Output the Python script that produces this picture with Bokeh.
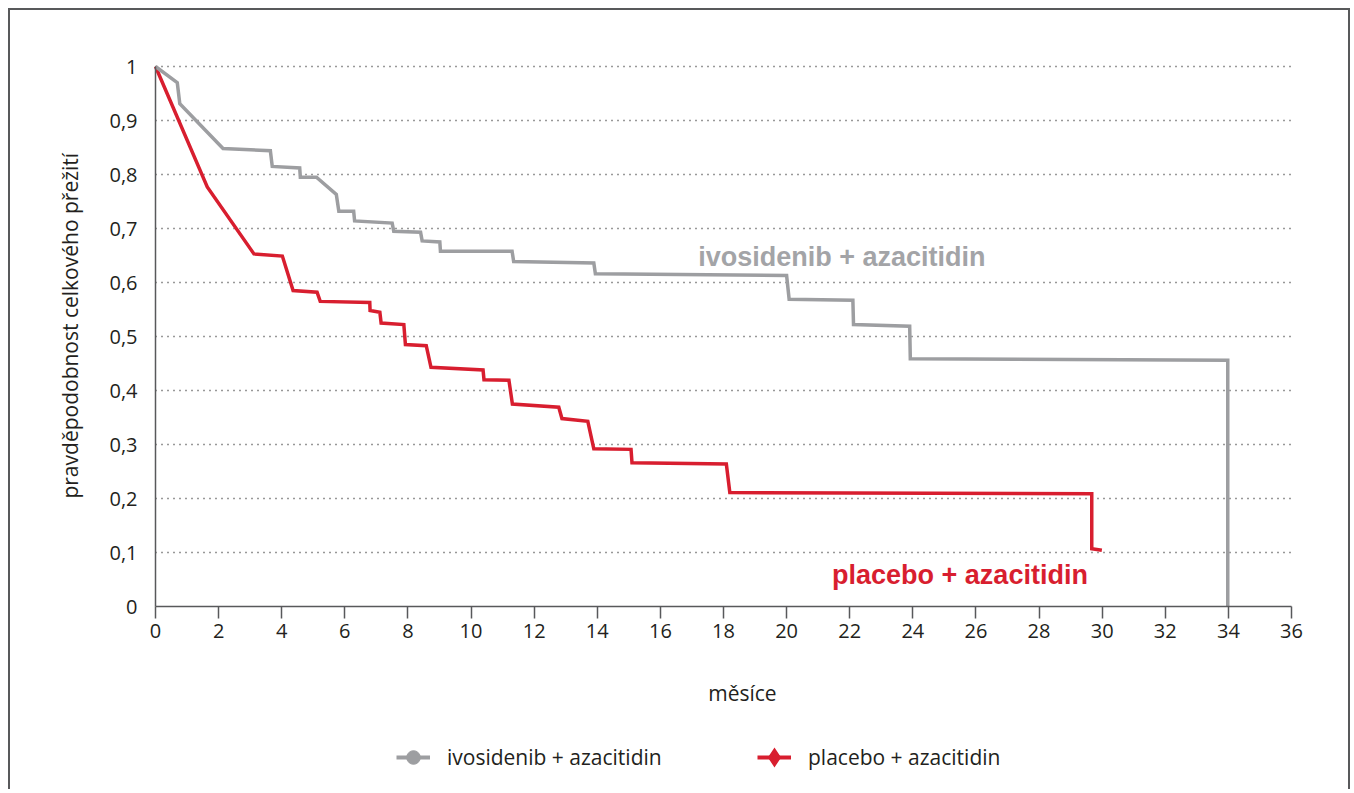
import math
from bokeh.plotting import figure
from bokeh.models import Range1d, FixedTicker, Label, Legend, LegendItem
from bokeh.embed import file_html
from bokeh.resources import INLINE

# ---- data ----
ivo_months = [0, 0.69, 0.77, 2.14, 3.64, 3.70, 4.57, 4.59, 5.10, 5.73, 5.81, 6.28, 6.31, 7.50, 7.55,
              8.40, 8.45, 9.01, 9.03, 11.30, 11.35, 13.89, 13.94, 20.00, 20.08, 22.10, 22.12,
              23.90, 23.92, 33.98, 33.98]
ivo_surv = [1.0, 0.970, 0.931, 0.848, 0.844, 0.815, 0.812, 0.795, 0.795, 0.763, 0.732, 0.732, 0.714,
            0.710, 0.695, 0.693, 0.677, 0.675, 0.658, 0.658, 0.639, 0.636, 0.616, 0.613, 0.569,
            0.567, 0.522, 0.519, 0.459, 0.456, 0.0]

pla_months = [0, 1.64, 3.12, 4.02, 4.36, 5.12, 5.22, 6.79, 6.80, 7.11, 7.15, 7.87, 7.92, 8.58, 8.73,
              10.38, 10.41, 11.20, 11.31, 12.78, 12.88, 13.70, 13.89, 15.07, 15.10, 18.09, 18.20,
              29.67, 29.67, 29.99]
pla_surv = [1.0, 0.777, 0.653, 0.649, 0.585, 0.582, 0.565, 0.563, 0.548, 0.545, 0.525, 0.522, 0.485,
            0.483, 0.443, 0.438, 0.420, 0.419, 0.375, 0.369, 0.348, 0.343, 0.292, 0.291, 0.266,
            0.264, 0.211, 0.209, 0.107, 0.104]

x_ticks = list(range(0, 37, 2))
y_ticks = [0, 0.1, 0.2, 0.3, 0.4, 0.5, 0.6, 0.7, 0.8, 0.9, 1.0]
y_tick_labels = ["0", "0,1", "0,2", "0,3", "0,4", "0,5", "0,6", "0,7", "0,8", "0,9", "1"]

series_names = ["ivosidenib + azacitidin", "placebo + azacitidin"]
x_title = "měsíce"
y_title = "pravděpodobnost celkového přežití"

GRAY = "#9d9ea1"
GRAY_TXT = "#a3a4a7"
RED = "#d81e2f"
DARK = "#231f20"
AXIS = "#58595b"
FONT = "Open Sans"

# ---- geometry: the plotting frame covers the whole canvas ----
W, H = 1342, 781
CANVAS_X0, CANVAS_Y0 = 10, 10          # page position of the canvas (margin 8 + border 2)
AX_LEFT, AX_RIGHT = 155, 1291          # page x of month 0 and month 36
AX_TOP, AX_BOTTOM = 66, 606            # page y of survival 1 and 0
PXX = (AX_RIGHT - AX_LEFT) / (x_ticks[-1] - x_ticks[0])
PXY = (AX_BOTTOM - AX_TOP) / (y_ticks[-1] - y_ticks[0])
x_lo = x_ticks[0] - (AX_LEFT - CANVAS_X0) / PXX
x_hi = x_ticks[0] + (CANVAS_X0 + W - AX_LEFT) / PXX
y_hi = y_ticks[-1] + (AX_TOP - CANVAS_Y0) / PXY
y_lo = y_ticks[0] - (CANVAS_Y0 + H - AX_BOTTOM) / PXY

p = figure(width=W, height=H, output_backend="svg", toolbar_location=None,
           x_range=Range1d(x_lo, x_hi), y_range=Range1d(y_lo, y_hi),
           min_border=0, min_border_left=0, min_border_right=0,
           min_border_top=0, min_border_bottom=0)
p.styles = {"margin-left": "8px", "margin-top": "8px",
            "border-left": "2px solid #58595b", "border-top": "2px solid #58595b",
            "border-right": "2px solid #58595b"}
p.outline_line_color = None
p.background_fill_color = "white"
p.border_fill_color = "white"

# x axis, fixed at y = 0
xa = p.xaxis[0]
xa.fixed_location = y_ticks[0]
xa.bounds = (x_ticks[0], x_ticks[-1])
xa.ticker = FixedTicker(ticks=x_ticks)
xa.major_tick_out = 12
xa.major_tick_in = 0
xa.minor_tick_line_color = None
xa.major_label_standoff = 5
xa.axis_line_color = AXIS
xa.axis_line_width = 1.5
xa.major_tick_line_color = AXIS
xa.major_tick_line_width = 1.5
xa.major_label_text_font = FONT
xa.major_label_text_font_size = "20px"
xa.major_label_text_color = DARK

# y axis, fixed at x = 0
ya = p.yaxis[0]
ya.fixed_location = x_ticks[0]
ya.bounds = (y_ticks[0], y_ticks[-1])
ya.ticker = FixedTicker(ticks=y_ticks)
ya.major_label_overrides = {t: l for t, l in zip(y_ticks, y_tick_labels)}
ya.major_tick_out = 0
ya.major_tick_in = 0
ya.minor_tick_line_color = None
ya.major_label_standoff = 18
ya.axis_line_color = AXIS
ya.axis_line_width = 1.5
ya.major_label_text_font = FONT
ya.major_label_text_font_size = "20px"
ya.major_label_text_color = DARK

# dotted horizontal grid from month 0 to month 36
p.xgrid.grid_line_color = None
p.ygrid.grid_line_color = None
g_ticks = y_ticks[1:]
p.segment(x0=[x_ticks[0]] * len(g_ticks), y0=g_ticks, x1=[x_ticks[-1]] * len(g_ticks), y1=g_ticks,
          line_color="#333333", line_dash="1 5", line_width=1.3)

# curves
p.line(pla_months, pla_surv, line_color=RED, line_width=3.5, line_join="miter")
p.line(ivo_months, ivo_surv, line_color=GRAY, line_width=3.5, line_join="miter")

# in-plot labels
p.add_layout(Label(x=17.2, y=0.648, text=series_names[0], text_font="Liberation Sans",
                   text_font_style="bold", text_font_size="27px", text_color=GRAY_TXT,
                   text_baseline="alphabetic", text_align="left"))
p.add_layout(Label(x=21.44, y=0.059, text=series_names[1], text_font="Liberation Sans",
                   text_font_style="bold", text_font_size="27px", text_color=RED,
                   text_baseline="alphabetic", text_align="left"))

# axis titles
p.add_layout(Label(x=18.6, y=-0.161, text=x_title, text_font=FONT, text_font_size="21px",
                   text_color=DARK, text_align="center", text_baseline="middle"))
p.add_layout(Label(x=-2.7, y=0.52, text=y_title, text_font=FONT, text_font_size="21px",
                   text_color=DARK, text_align="center", text_baseline="middle",
                   angle=math.pi / 2))

# legend swatch renderers (NaN data: nothing drawn in the plot)
nan = float("nan")
lg1_line = p.line(x=[nan, nan], y=[nan, nan], line_color=GRAY, line_width=4)
lg1_mark = p.scatter(x=[nan], y=[nan], marker="circle", size=14, fill_color=GRAY, line_color=GRAY)
lg2_line = p.line(x=[nan, nan], y=[nan, nan], line_color=RED, line_width=4)
lg2_mark = p.scatter(x=[nan], y=[nan], marker="diamond", size=16, fill_color=RED,
                     line_color=RED, line_width=3.5, line_join="miter")

GH = 36
legend = Legend(items=[LegendItem(label=series_names[0], renderers=[lg1_line, lg1_mark]),
                       LegendItem(label=series_names[1], renderers=[lg2_line, lg2_mark])],
                location=(396 - CANVAS_X0, CANVAS_Y0 + H - (757 + GH // 2)), orientation="horizontal",
                glyph_width=34, glyph_height=GH, label_height=GH, label_width=290,
                label_standoff=17, spacing=20, padding=0, margin=0,
                border_line_alpha=0, background_fill_alpha=0,
                label_text_font=FONT, label_text_font_size="21px", label_text_color=DARK)
p.add_layout(legend, "center")

open("out.html", "w").write(file_html(p, INLINE))
